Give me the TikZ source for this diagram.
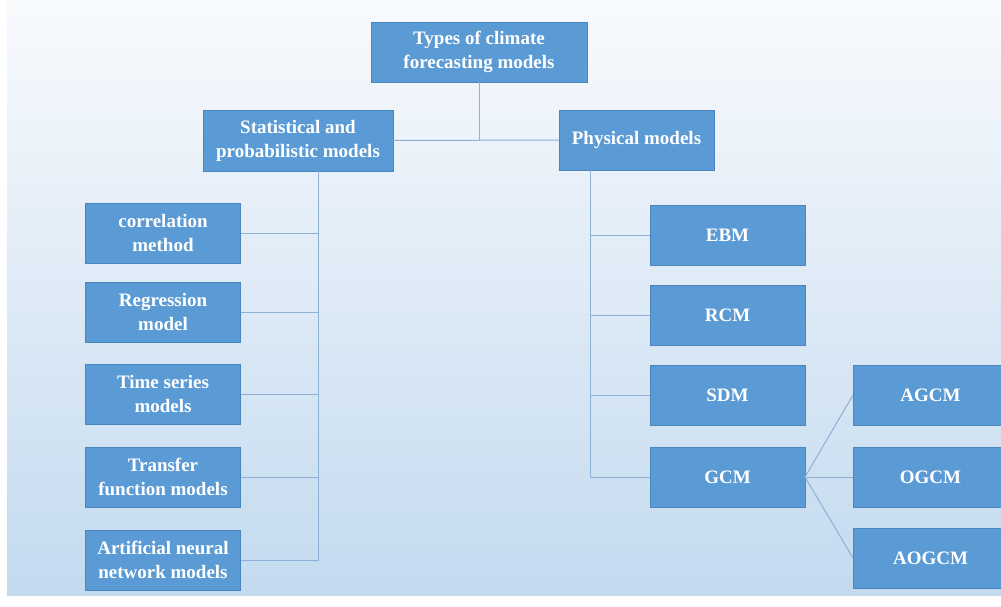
\documentclass[tikz,border=0pt]{standalone}
\usepackage{fontspec}
\setmainfont{Liberation Serif}
\usetikzlibrary{positioning}
\definecolor{cBox}{HTML}{5B9BD5}
\definecolor{cBoxB}{HTML}{4A85BE}
\definecolor{cLine}{HTML}{8EB0D6}
\definecolor{cBgTop}{HTML}{F8FAFD}
\definecolor{cBgBot}{HTML}{C3DAEF}
\tikzset{
  mbox/.style={draw=cBoxB, fill=cBox, line width=0.8pt, text=white, align=center,
               inner sep=0pt, outer sep=0pt, minimum width=#1, minimum height=60pt,
               font=\fontsize{19}{24}\selectfont\bfseries},
  mbox/.default=155pt,
  mline/.style={draw=cLine, line width=1pt},
}

\begin{document}
\begin{tikzpicture}
\clip (0,0) rectangle (1001pt,-606pt);
\fill[white] (0,0) rectangle (1001pt,-606pt);
\shade[top color=cBgTop, bottom color=cBgBot] (7pt,0) rectangle (1001pt,-595pt);
% ---- root and the two families
\node[mbox=216pt] (root) at (479pt,-52pt) {Types of climate\\forecasting models};
\node[mbox=190pt, minimum height=61pt] (stat) at (298pt,-140.5pt)
  {Statistical and\\probabilistic models};
\node[mbox] (phys) at (636.5pt,-140pt) {Physical models};
% ---- statistical branch
\node[mbox] (corr) at (163pt,-233pt) {correlation\\method};
\node[mbox, below=19pt of corr] (regr) {Regression\\model};
\node[mbox, below=22pt of regr] (tser) {Time series\\models};
\node[mbox, below=23pt of tser] (tfun) {Transfer\\function models};
\node[mbox, below=23pt of tfun] (ann) {Artificial neural\\network models};
% ---- physical branch
\node[mbox] (ebm) at (727.5pt,-235pt) {EBM};
\node[mbox, below=20pt of ebm] (rcm) {RCM};
\node[mbox, below=20pt of rcm] (sdm) {SDM};
\node[mbox, below=22pt of sdm] (gcm) {GCM};
\node[mbox, right=48pt of sdm] (agcm) {AGCM};
\node[mbox, right=48pt of gcm] (ogcm) {OGCM};
\node[mbox, below=21pt of ogcm] (aogcm) {AOGCM};
% ---- connectors
\draw[mline] (root.south) -- (root.south |- stat.east);
\draw[mline] (stat.east) -- (phys.west);
\coordinate (lt) at ([xshift=20pt]stat.south);
\coordinate (rt) at ([xshift=31pt]phys.south west);
\draw[mline] (lt) |- (ann.east);
\foreach \b in {corr, regr, tser, tfun} \draw[mline] (\b.east) -- (\b.east -| lt);
\draw[mline] (rt) |- (gcm.west);
\foreach \b in {ebm, rcm, sdm} \draw[mline] (\b.west) -- (\b.west -| rt);
\foreach \b in {agcm, ogcm, aogcm} \draw[mline] (gcm.east) -- (\b.west);
\end{tikzpicture}
\end{document}
